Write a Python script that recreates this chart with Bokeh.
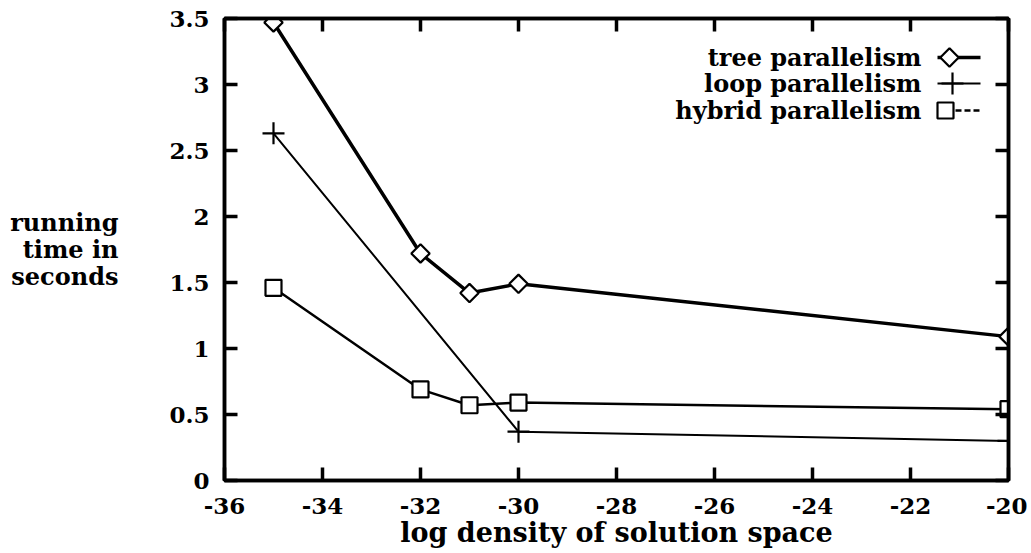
import math
from bokeh.plotting import figure
from bokeh.models import Range1d, LinearAxis, Label, FixedTicker, CustomJSTickFormatter
from bokeh.embed import file_html
from bokeh.resources import INLINE

# ---- data ----
x_tree = [-35, -32, -31, -30, -20]
tree = [3.47, 1.72, 1.42, 1.49, 1.09]
x_loop = [-35, -30, -20]
loop = [2.63, 0.37, 0.30]
x_hybrid = [-35, -32, -31, -30, -20]
hybrid = [1.46, 0.69, 0.57, 0.59, 0.54]
x_ticks = [-36, -34, -32, -30, -28, -26, -24, -22, -20]
y_ticks = [0, 0.5, 1, 1.5, 2, 2.5, 3, 3.5]
series_names = ["tree parallelism", "loop parallelism", "hybrid parallelism"]
y_label = "running\ntime in\nseconds"
x_label = "log density of solution space"

FONT = "DejaVu Serif"
TICK_FS = "23px"
TEXT_FS = "24px"

# frame edges in page pixels (used only for layout)
FL, FR, FT, FB = 224, 1008, 18, 480
W, H = 1027, 553

p = figure(width=W, height=H, x_range=Range1d(-36, -20), y_range=Range1d(0, 3.5),
           output_backend="svg", toolbar_location=None,
           min_border_left=FL, min_border_right=W - FR, min_border_top=FT, min_border_bottom=H - FB)
p.xgrid.visible = False
p.ygrid.visible = False
p.outline_line_color = "black"
p.outline_line_width = 3.5
p.background_fill_color = "white"
p.border_fill_color = "white"

fmt = CustomJSTickFormatter(code="return tick.toString();")

def style_axis(ax, labels=True):
    ax.axis_line_width = 3.5
    ax.axis_line_color = "black"
    ax.major_tick_in = 13
    ax.major_tick_out = 0
    ax.major_tick_line_width = 3.5
    ax.minor_tick_line_color = None
    ax.major_label_text_font = FONT
    ax.major_label_text_font_style = "bold"
    if labels:
        ax.major_label_text_font_size = TICK_FS
        ax.major_label_text_color = "black"
        ax.formatter = fmt
    else:
        ax.major_label_text_font_size = "1px"
        ax.major_label_text_color = None
        ax.major_label_standoff = 0

p.xaxis.ticker = FixedTicker(ticks=x_ticks)
p.yaxis.ticker = FixedTicker(ticks=y_ticks)
style_axis(p.xaxis[0])
style_axis(p.yaxis[0])
p.xaxis.major_label_standoff = 17
p.yaxis.major_label_standoff = 15

p.xaxis.axis_label = x_label
p.xaxis.axis_label_text_font = FONT
p.xaxis.axis_label_text_font_style = "bold"
p.xaxis.axis_label_text_font_size = "27px"
p.xaxis.axis_label_standoff = 0
p.xaxis.axis_label_text_color = "black"

p.yaxis.axis_label = y_label
p.yaxis.axis_label_orientation = "horizontal"
p.yaxis.axis_label_text_align = "center"
p.yaxis.axis_label_text_font = FONT
p.yaxis.axis_label_text_font_style = "bold"
p.yaxis.axis_label_text_font_size = TEXT_FS
p.yaxis.axis_label_text_line_height = 0.93
p.yaxis.axis_label_standoff = 48
p.yaxis.axis_label_text_color = "black"

ra = LinearAxis(ticker=FixedTicker(ticks=y_ticks))
style_axis(ra, labels=False)
p.add_layout(ra, "right")
ta = LinearAxis(ticker=FixedTicker(ticks=x_ticks))
style_axis(ta, labels=False)
p.add_layout(ta, "above")

# ---- series ----
p.line(x_tree, tree, line_color="black", line_width=3.5)
p.scatter(x_tree, tree, marker="square", angle=math.pi / 4, size=13,
          fill_color="white", line_color="black", line_width=2.2)
p.line(x_loop, loop, line_color="black", line_width=2)
p.scatter(x_loop, loop, marker="cross", size=22, line_color="black", line_width=2.2)
p.line(x_hybrid, hybrid, line_color="black", line_width=2.5)
p.scatter(x_hybrid, hybrid, marker="square", size=16,
          fill_color="white", line_color="black", line_width=2.2)

# ---- legend (text then sample, like the original) ----
def px_to_x(px):
    return -36 + (px - FL) * 16 / (FR - FL)
def py_to_y(py):
    return (FB - py) * 3.5 / (FB - FT)

rows = [57, 83, 110]
samples = [("diamond", 949, 3.5), ("cross", 952, 2.0), ("sq", 945, 2.5)]
for name, py, (mk, mpx, lw) in zip(series_names, rows, samples):
    yy = py_to_y(py)
    p.add_layout(Label(x=px_to_x(921), y=yy, text=name, text_align="right", text_baseline="middle",
                       text_font=FONT, text_font_style="bold", text_font_size=TEXT_FS, text_color="black"))
    p.line([px_to_x(937), px_to_x(980)], [yy, yy], line_color="black", line_width=lw,
           line_dash="solid" if mk != "sq" else "6 3")
    if mk == "diamond":
        p.scatter([px_to_x(mpx)], [yy], marker="square", angle=math.pi / 4, size=13,
                  fill_color="white", line_color="black", line_width=2.2)
    elif mk == "cross":
        p.scatter([px_to_x(mpx)], [yy], marker="cross", size=22, line_color="black", line_width=2.2)
    else:
        p.scatter([px_to_x(mpx)], [yy], marker="square", size=16,
                  fill_color="white", line_color="black", line_width=2.2)

open("out.html", "w").write(file_html(p, INLINE))
